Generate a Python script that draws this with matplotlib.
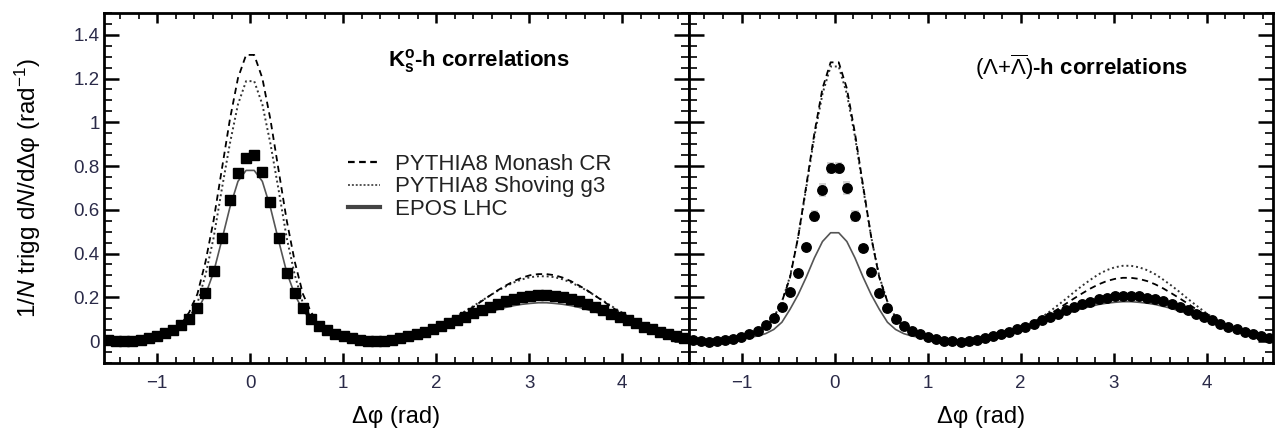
import numpy as np
import matplotlib
matplotlib.use("Agg")
import matplotlib.pyplot as plt
from matplotlib.lines import Line2D
from matplotlib.patches import Rectangle
from matplotlib.ticker import MultipleLocator, FuncFormatter

plt.rcParams["font.family"] = ["Liberation Sans", "DejaVu Sans"]
plt.rcParams["mathtext.fontset"] = "custom"
plt.rcParams["mathtext.rm"] = "Liberation Sans"
plt.rcParams["mathtext.it"] = "Liberation Sans:italic"
plt.rcParams["mathtext.bf"] = "Liberation Sans:bold"

# 72 bins in dphi from -pi/2 to 3pi/2
N_BINS = 72
edges = np.linspace(-np.pi / 2, 3 * np.pi / 2, N_BINS + 1)
dphi = 0.5 * (edges[:-1] + edges[1:])
bin_w = edges[1] - edges[0]

# ---- K0s-h panel ----
k0s_data = [0.004, 0.000, -0.002, 0.000, 0.005, 0.012, 0.022, 0.035, 0.050, 0.072, 0.102, 0.152,
            0.220, 0.320, 0.470, 0.645, 0.770, 0.835,
            0.850, 0.775, 0.635, 0.470, 0.310, 0.220, 0.150, 0.100, 0.070, 0.049, 0.034, 0.022,
            0.012, 0.005, 0.001, -0.001, 0.001, 0.005,
            0.014, 0.022, 0.031, 0.042, 0.054, 0.067, 0.081, 0.096, 0.111, 0.126, 0.142, 0.157,
            0.170, 0.183, 0.193, 0.201, 0.207, 0.210,
            0.211, 0.206, 0.200, 0.194, 0.182, 0.171, 0.156, 0.143, 0.125, 0.112, 0.095, 0.082,
            0.066, 0.055, 0.041, 0.032, 0.021, 0.015]
k0s_monash = [0.008, 0.005, 0.005, 0.007, 0.011, 0.018, 0.026, 0.037, 0.052, 0.077, 0.132, 0.215,
              0.362, 0.552, 0.782, 1.012, 1.202, 1.308,
              1.308, 1.202, 1.012, 0.782, 0.552, 0.362, 0.215, 0.132, 0.077, 0.052, 0.037, 0.026,
              0.018, 0.011, 0.007, 0.005, 0.005, 0.008,
              0.012, 0.019, 0.028, 0.039, 0.053, 0.069, 0.088, 0.109, 0.132, 0.156, 0.182, 0.207,
              0.232, 0.254, 0.274, 0.290, 0.301, 0.306,
              0.306, 0.301, 0.290, 0.274, 0.254, 0.232, 0.207, 0.182, 0.156, 0.132, 0.109, 0.088,
              0.069, 0.053, 0.039, 0.028, 0.019, 0.012]
k0s_shoving = [0.010, 0.007, 0.005, 0.007, 0.009, 0.015, 0.022, 0.030, 0.042, 0.064, 0.107, 0.172,
               0.302, 0.472, 0.692, 0.902, 1.082, 1.188,
               1.188, 1.082, 0.902, 0.692, 0.472, 0.302, 0.172, 0.107, 0.064, 0.042, 0.030, 0.022,
               0.015, 0.009, 0.007, 0.005, 0.007, 0.010,
               0.016, 0.024, 0.034, 0.046, 0.060, 0.076, 0.095, 0.115, 0.137, 0.160, 0.184, 0.207,
               0.230, 0.250, 0.268, 0.282, 0.292, 0.296,
               0.296, 0.292, 0.282, 0.268, 0.250, 0.230, 0.207, 0.184, 0.160, 0.137, 0.115, 0.095,
               0.076, 0.060, 0.046, 0.034, 0.024, 0.016]
k0s_epos = [0.008, 0.003, 0.000, 0.000, 0.003, 0.008, 0.016, 0.025, 0.040, 0.061, 0.094, 0.140,
            0.212, 0.315, 0.460, 0.610, 0.730, 0.780,
            0.780, 0.730, 0.610, 0.460, 0.315, 0.212, 0.140, 0.094, 0.061, 0.040, 0.025, 0.016,
            0.008, 0.003, 0.000, 0.000, 0.003, 0.008,
            0.015, 0.022, 0.030, 0.039, 0.049, 0.061, 0.072, 0.085, 0.097, 0.109, 0.122, 0.133,
            0.144, 0.154, 0.162, 0.168, 0.172, 0.175,
            0.175, 0.172, 0.168, 0.162, 0.154, 0.144, 0.133, 0.122, 0.109, 0.097, 0.085, 0.072,
            0.061, 0.049, 0.039, 0.030, 0.022, 0.015]

# ---- (Lambda + anti-Lambda)-h panel ----
lam_data = [0.003, -0.002, -0.004, -0.002, 0.003, 0.009, 0.018, 0.030, 0.048, 0.072, 0.105, 0.155,
            0.225, 0.310, 0.430, 0.570, 0.690, 0.790,
            0.790, 0.700, 0.570, 0.425, 0.315, 0.220, 0.150, 0.100, 0.070, 0.047, 0.030, 0.017,
            0.008, 0.002, -0.002, -0.003, -0.001, 0.004,
            0.013, 0.021, 0.030, 0.041, 0.053, 0.066, 0.080, 0.095, 0.110, 0.125, 0.140, 0.155,
            0.168, 0.180, 0.190, 0.198, 0.204, 0.207,
            0.208, 0.205, 0.198, 0.190, 0.181, 0.168, 0.155, 0.140, 0.124, 0.110, 0.095, 0.080,
            0.066, 0.053, 0.041, 0.030, 0.021, 0.013]
lam_sys = ([0.006] * 13 + [0.014, 0.020, 0.028, 0.032, 0.028, 0.028, 0.032, 0.028, 0.020, 0.014]
           + [0.006] * 49)
lam_monash = [0.006, 0.004, 0.004, 0.006, 0.010, 0.016, 0.023, 0.033, 0.045, 0.065, 0.105, 0.180,
              0.290, 0.475, 0.710, 0.950, 1.155, 1.274,
              1.274, 1.155, 0.950, 0.710, 0.475, 0.290, 0.180, 0.105, 0.065, 0.045, 0.033, 0.023,
              0.016, 0.010, 0.006, 0.004, 0.004, 0.006,
              0.009, 0.016, 0.025, 0.035, 0.048, 0.064, 0.081, 0.101, 0.123, 0.146, 0.171, 0.195,
              0.218, 0.240, 0.259, 0.274, 0.284, 0.289,
              0.289, 0.284, 0.274, 0.259, 0.240, 0.218, 0.195, 0.171, 0.146, 0.123, 0.101, 0.081,
              0.064, 0.048, 0.035, 0.025, 0.016, 0.009]
lam_shoving = [0.004, 0.002, 0.003, 0.005, 0.009, 0.015, 0.022, 0.032, 0.046, 0.067, 0.108, 0.180,
               0.295, 0.475, 0.700, 0.935, 1.130, 1.255,
               1.255, 1.130, 0.935, 0.700, 0.475, 0.295, 0.180, 0.108, 0.067, 0.046, 0.032, 0.022,
               0.015, 0.009, 0.005, 0.003, 0.002, 0.004,
               0.007, 0.014, 0.023, 0.034, 0.048, 0.066, 0.086, 0.109, 0.135, 0.164, 0.193, 0.224,
               0.253, 0.280, 0.305, 0.324, 0.337, 0.344,
               0.344, 0.337, 0.324, 0.305, 0.280, 0.253, 0.224, 0.193, 0.164, 0.135, 0.109, 0.086,
               0.066, 0.048, 0.034, 0.023, 0.014, 0.007]
lam_epos = [0.009, 0.003, 0.002, 0.002, 0.003, 0.006, 0.011, 0.017, 0.023, 0.034, 0.053, 0.086,
            0.145, 0.212, 0.292, 0.380, 0.455, 0.495,
            0.495, 0.455, 0.380, 0.292, 0.212, 0.145, 0.086, 0.053, 0.034, 0.023, 0.017, 0.011,
            0.006, 0.003, 0.002, 0.002, 0.003, 0.009,
            0.015, 0.023, 0.031, 0.041, 0.051, 0.063, 0.075, 0.087, 0.100, 0.113, 0.125, 0.137,
            0.149, 0.158, 0.167, 0.173, 0.177, 0.180,
            0.180, 0.177, 0.173, 0.167, 0.158, 0.149, 0.137, 0.125, 0.113, 0.100, 0.087, 0.075,
            0.063, 0.051, 0.041, 0.031, 0.023, 0.015]

LABELS = ["PYTHIA8 Monash CR", "PYTHIA8 Shoving g3", "EPOS LHC"]
TICK_COLOR = "#2a2a48"

STYLE_MONASH = dict(color="black", ls=(0, (3.5, 2.5)), lw=1.3)
STYLE_SHOVING = dict(color="#333333", ls=(0, (1, 1.5)), lw=1.4)
STYLE_EPOS = dict(color="#555555", ls="-", lw=1.2)


def draw_panel(ax, data, monash, shoving, epos, marker, ms, sys=None):
    if sys is not None:
        for x, y, s in zip(dphi, data, sys):
            ax.add_patch(Rectangle((x - 0.45 * bin_w, y - s), 0.9 * bin_w, 2 * s,
                                   facecolor="#d4d4d4", edgecolor="none", zorder=1))
    ax.plot(dphi, epos, zorder=2, **STYLE_EPOS)
    ax.plot(dphi, shoving, zorder=3, **STYLE_SHOVING)
    ax.plot(dphi, monash, zorder=3, **STYLE_MONASH)
    ax.plot(dphi, data, ls="none", marker=marker, ms=ms, color="black",
            mec="black", zorder=4)

    ax.set_xlim(-np.pi / 2, 3 * np.pi / 2)
    ax.set_ylim(-0.1, 1.5)
    ax.xaxis.set_major_locator(MultipleLocator(1))
    ax.xaxis.set_minor_locator(MultipleLocator(0.2))
    ax.yaxis.set_major_locator(MultipleLocator(0.2))
    ax.yaxis.set_minor_locator(MultipleLocator(0.05))
    ax.yaxis.set_major_formatter(FuncFormatter(lambda v, p: f"{v:g}"))

    ax.tick_params(which="both", direction="in", top=True, right=True,
                   labelsize=13.5, labelcolor=TICK_COLOR)
    ax.tick_params(axis="y", which="major", length=11, width=1.8, pad=3)
    ax.tick_params(axis="y", which="minor", length=5.5, width=1.2)
    ax.tick_params(axis="x", which="major", length=7, width=1.8, pad=9)
    ax.tick_params(axis="x", which="minor", length=4, width=1.2)
    for sp in ax.spines.values():
        sp.set_linewidth(2)

    ax.set_xlabel("Δφ (rad)", fontsize=17, labelpad=10)


fig, (ax_k, ax_l) = plt.subplots(1, 2, figsize=(12.81, 4.30), dpi=100, sharey=True)
fig.subplots_adjust(left=0.0812, right=0.9938, bottom=0.156, top=0.970, wspace=0)

draw_panel(ax_k, k0s_data, k0s_monash, k0s_shoving, k0s_epos, "s", 7)
draw_panel(ax_l, lam_data, lam_monash, lam_shoving, lam_epos, "o", 6.8, sys=lam_sys)
ax_l.tick_params(labelleft=False)

ax_k.set_ylabel("1/$N$ trigg d$N$/dΔφ (rad$^{-1}$)", fontsize=17.5)
ax_k.yaxis.set_label_coords(-0.105, 0.5)

ax_k.text(0.486, 0.863, r"$\mathbf{K^{o}_{s}}$-h correlations", transform=ax_k.transAxes,
          fontsize=16, fontweight="bold", ha="left", va="center")
ax_l.text(0.49, 0.846, r"$(\Lambda{+}\overline{\Lambda})$-h correlations", transform=ax_l.transAxes,
          fontsize=16, fontweight="bold", ha="left", va="center")

handles = [Line2D([], [], color="black", ls=(0, (3, 2)), lw=1.6),
           Line2D([], [], color="#555555", ls=(0, (1, 1)), lw=1.4),
           Line2D([], [], color="#444444", ls="-", lw=3)]
ax_k.legend(handles, LABELS, loc="center left", bbox_to_anchor=(0.383, 0.503),
            frameon=False, fontsize=16, handlelength=1.45, handletextpad=0.65,
            labelspacing=0.08, labelcolor="#222222")

fig.savefig("out.png", dpi=100)
